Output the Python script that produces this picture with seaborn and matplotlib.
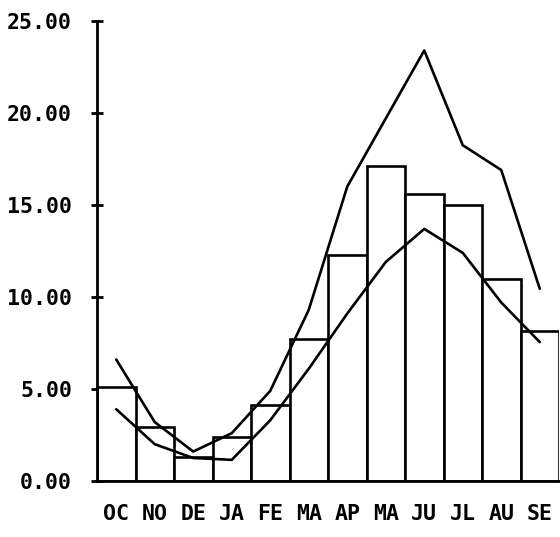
import matplotlib
matplotlib.use("Agg")
import matplotlib.pyplot as plt
import seaborn as sns
import numpy as np
import pandas as pd

months = ["OC", "NO", "DE", "JA", "FE", "MA", "AP", "MA", "JU", "JL", "AU", "SE"]
bar_values = [5.1, 2.95, 1.3, 2.4, 4.15, 7.7, 12.3, 17.1, 15.6, 15.0, 11.0, 8.15]
upper_line = [6.6, 3.2, 1.6, 2.6, 4.9, 9.3, 16.0, 19.7, 23.4, 18.25, 16.9, 10.45]
lower_line = [3.9, 2.0, 1.25, 1.15, 3.3, 6.1, 9.1, 11.9, 13.7, 12.4, 9.7, 7.55]
y_ticks = [0, 5, 10, 15, 20, 25]

sns.set_style("white")
plt.rcParams["font.family"] = ["DejaVu Sans Mono", "DejaVu Sans"]
plt.rcParams["font.weight"] = "bold"

fig = plt.figure(figsize=(5.6, 5.37), dpi=100)
ax = fig.add_axes([97 / 560, 1 - 481 / 537, 462 / 560, 460 / 537])

pos = np.arange(len(months))
df = pd.DataFrame({"pos": pos, "value": bar_values,
                   "upper": upper_line, "lower": lower_line})

lw = 1.9
sns.barplot(data=df, x="pos", y="value", ax=ax, width=1.0, color="white",
            edgecolor="black", linewidth=lw, native_scale=False)
sns.lineplot(data=df, x="pos", y="upper", ax=ax, color="black", linewidth=lw)
sns.lineplot(data=df, x="pos", y="lower", ax=ax, color="black", linewidth=lw)

ax.set_xlim(-0.5, len(months) - 0.5)
ax.set_ylim(0, 25)
ax.set_xticks(pos)
ax.set_xticklabels(months)
ax.set_yticks(y_ticks)
ax.set_yticklabels([f"{v:.2f}" for v in y_ticks])
ax.set_xlabel("")
ax.set_ylabel("")

for s in ["top", "right"]:
    ax.spines[s].set_visible(False)
for s in ["left", "bottom"]:
    ax.spines[s].set_linewidth(2.0)
    ax.spines[s].set_color("black")

ax.tick_params(axis="y", direction="inout", length=8.6, width=2.0,
               pad=13.7, labelsize=15.5, colors="black", left=True)
ax.tick_params(axis="x", length=0, pad=16.5, labelsize=15.5, colors="black")

fig.savefig("out.png", dpi=100)
